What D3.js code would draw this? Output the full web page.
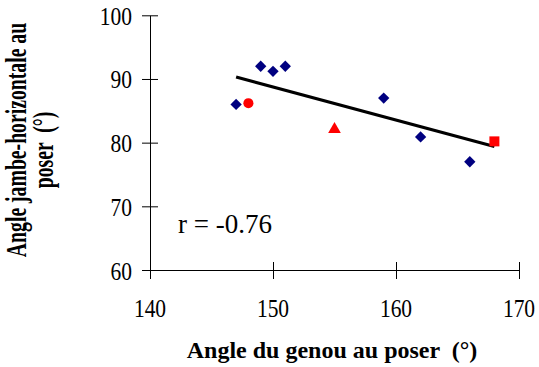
<!DOCTYPE html>
<html><head><meta charset="utf-8">
<script src="https://cdn.jsdelivr.net/npm/d3@7"></script>
<style>html,body{margin:0;padding:0;background:#fff;}svg{display:block;}text{white-space:pre;}</style>
</head><body>
<svg id="c" width="539" height="367"></svg>
<script>
const xTicks = [140, 150, 160, 170];
const yTicks = [60, 70, 80, 90, 100];
const blueX = [147, 149, 150, 151, 159, 162, 166];
const blueY = [86, 92, 91.2, 92, 87, 80.9, 77];
const redX = [148, 155, 168];
const redY = [86.2, 82.1, 80.2];
const redShape = ["circle", "triangle", "square"];
const trendX = [147, 168];
const trendY = [90.3, 79.4];
const xTitle = "Angle du genou au poser  (°)";
const yTitle = ["Angle jambe-horizontale au", "poser  (°)"];
const rLabel = "r = -0.76";

const svg = d3.select("#c");
const x = d3.scaleLinear().domain([140, 170]).range([150, 519]);
const y = d3.scaleLinear().domain([60, 100]).range([270, 15.3]);
const serif = "'Liberation Serif','Times New Roman',serif";

// axes
const gx = svg.append("g").attr("transform", `translate(0,${y(60)})`)
  .call(d3.axisBottom(x).tickValues(xTicks).tickSize(0).tickFormat(""));
gx.select(".domain").attr("stroke", "#000");
const gy = svg.append("g").attr("transform", `translate(${x(140)},0)`)
  .call(d3.axisLeft(y).tickValues(yTicks).tickSize(0).tickFormat(""));
gy.select(".domain").attr("stroke", "#000");

// crossing ticks
svg.append("g").selectAll("line").data(xTicks).join("line")
  .attr("x1", d => x(d) + 0.5).attr("x2", d => x(d) + 0.5)
  .attr("y1", y(60) - 8).attr("y2", y(60) + 9).attr("stroke", "#000");
svg.append("g").selectAll("line").data(yTicks).join("line")
  .attr("x1", x(140) - 8).attr("x2", x(140) + 8)
  .attr("y1", d => y(d) + 0.5).attr("y2", d => y(d) + 0.5).attr("stroke", "#000");

// tick labels
svg.append("g").selectAll("text").data(xTicks).join("text")
  .attr("transform", d => `translate(${x(d)},317) scale(0.86,1)`)
  .attr("text-anchor", "middle").attr("font-family", serif).attr("font-size", 25)
  .text(d => d);
svg.append("g").selectAll("text").data(yTicks).join("text")
  .attr("transform", d => `translate(132,${y(d) + 9.5}) scale(0.86,1)`)
  .attr("text-anchor", "end").attr("font-family", serif).attr("font-size", 25)
  .text(d => d);

// trend line
svg.append("line")
  .attr("x1", x(trendX[0])).attr("y1", y(trendY[0]))
  .attr("x2", x(trendX[1])).attr("y2", y(trendY[1]))
  .attr("stroke", "#000").attr("stroke-width", 3);

// blue diamonds
svg.append("g").selectAll("path").data(blueX.map((v, i) => [v, blueY[i]])).join("path")
  .attr("d", d3.symbol().type(d3.symbolSquare).size(64)())
  .attr("transform", d => `translate(${x(d[0])},${y(d[1])}) rotate(45)`)
  .attr("fill", "#000080");

// red markers
const shapes = { circle: [d3.symbolCircle, 80], triangle: [d3.symbolTriangle, 70], square: [d3.symbolSquare, 100] };
svg.append("g").selectAll("path").data(redX.map((v, i) => [v, redY[i], redShape[i]])).join("path")
  .attr("d", d => d3.symbol().type(shapes[d[2]][0]).size(shapes[d[2]][1])())
  .attr("transform", d => `translate(${x(d[0])},${y(d[1])})`)
  .attr("fill", "#ff0000");

// r label
svg.append("text").attr("x", 178).attr("y", 233)
  .attr("font-family", serif).attr("font-size", 27).text(rLabel);

// x title
svg.append("text").attr("x", 332).attr("y", 358).attr("text-anchor", "middle")
  .attr("font-family", serif).attr("font-weight", "bold").attr("font-size", 24)
  .text(xTitle);

// y title
svg.append("g").selectAll("text").data(yTitle).join("text")
  .attr("transform", (d, i) => `translate(${26 + i * 27},${140 + i * 10}) rotate(-90) scale(0.68,1)`)
  .attr("text-anchor", "middle").attr("font-family", serif).attr("font-weight", "bold").attr("font-size", 29)
  .text(d => d);
</script>
</body></html>
